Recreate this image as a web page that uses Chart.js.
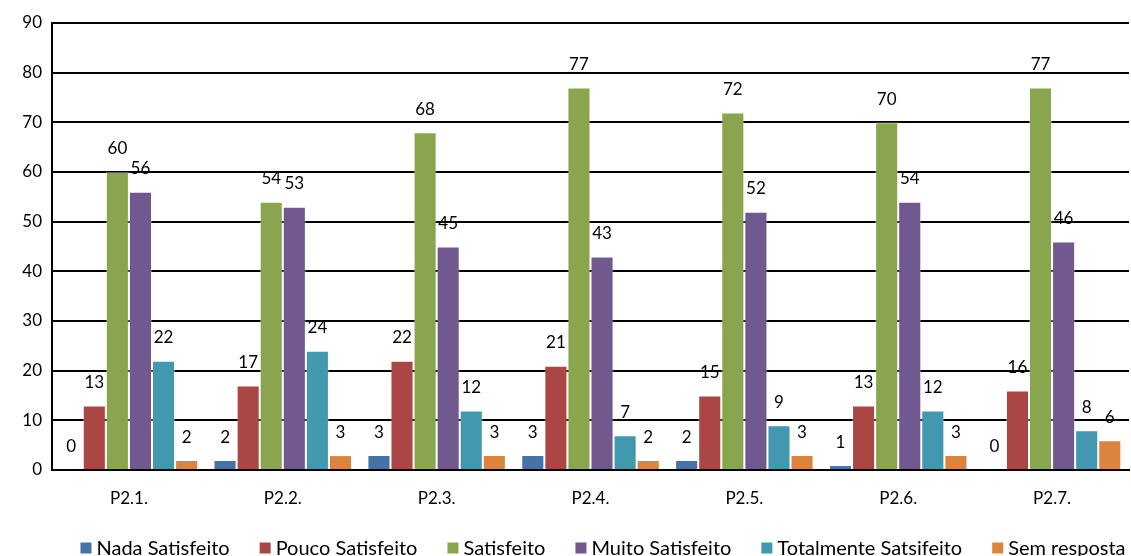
<!DOCTYPE html>
<html><head><meta charset="utf-8">
<script src="https://cdn.jsdelivr.net/npm/chart.js@4/dist/chart.umd.min.js"></script>
<style>html,body{margin:0;padding:0;background:#fff}#wrap{width:1131px;height:556px}</style>
</head><body><div id="wrap"><canvas id="c" width="1131" height="556"></canvas></div>
<script>
const categories = ["P2.1.","P2.2.","P2.3.","P2.4.","P2.5.","P2.6.","P2.7."];
const seriesNames = ["Nada Satisfeito","Pouco Satisfeito","Satisfeito","Muito Satisfeito","Totalmente Satsifeito","Sem resposta"];
const nada = [0,2,3,3,2,1,0];
const pouco = [13,17,22,21,15,13,16];
const satisfeito = [60,54,68,77,72,70,77];
const muito = [56,53,45,43,52,54,46];
const totalmente = [22,24,12,7,9,12,8];
const semResposta = [2,3,3,2,3,3,6];
const colors = ["#4572A7","#AA4643","#89A54E","#71588F","#4198AF","#DB843D"];
const values = [nada,pouco,satisfeito,muito,totalmente,semResposta];
const FONT = "Lato, 'Open Sans', sans-serif";

const labelPlugin = {
  id:'vals',
  afterDatasetsDraw(chart){
    const ctx = chart.ctx;
    ctx.save();
    ctx.font = "17px " + FONT;
    ctx.fillStyle = "#000";
    ctx.textAlign = "center";
    ctx.textBaseline = "middle";
    chart.data.datasets.forEach((ds,i)=>{
      const meta = chart.getDatasetMeta(i);
      meta.data.forEach((el,j)=>{
        ctx.fillText(String(ds.data[j]), el.x, el.y - 23);
      });
    });
    ctx.restore();
  }
};

const legendPlugin = {
  id:'customLegend',
  afterDraw(chart){
    const ctx = chart.ctx;
    ctx.save();
    ctx.font = "20px " + FONT;
    ctx.textBaseline = "middle";
    ctx.textAlign = "left";
    const box = 11, gapText = 5, gapItem = 30;
    const items = chart.data.datasets.map(ds=>({label:ds.label,color:ds.backgroundColor,w:box+gapText+ctx.measureText(ds.label).width}));
    const total = items.reduce((a,it)=>a+it.w,0) + gapItem*(items.length-1);
    let x = 603 - total/2;
    const y = 548;
    items.forEach(it=>{
      ctx.fillStyle = it.color;
      ctx.fillRect(x, y-box/2, box, box);
      ctx.fillStyle = "#000";
      ctx.fillText(it.label, x+box+gapText, y+1);
      x += it.w + gapItem;
    });
    ctx.restore();
  }
};

new Chart(document.getElementById('c'),{
  type:'bar',
  data:{
    labels:categories,
    datasets: values.map((v,i)=>({label:seriesNames[i],data:v,backgroundColor:colors[i],borderColor:'rgba(255,255,255,0.35)',borderWidth:{left:1,right:1,top:1,bottom:0},categoryPercentage:0.9,barPercentage:1.0}))
  },
  options:{
    responsive:false,animation:false,
    layout:{padding:{top:23,right:2,left:0,bottom:46}},
    plugins:{
      legend:{display:false},
      tooltip:{enabled:false}
    },
    scales:{
      x:{
        grid:{display:false},
        border:{display:true,color:'#000',width:2},
        ticks:{font:{family:FONT,size:17},color:'#000',padding:10},
        afterFit(s){s.height=40;}
      },
      y:{
        min:0,max:90,
        ticks:{stepSize:10,font:{family:FONT,size:17},color:'#000',padding:10},
        grid:{color:'#000',lineWidth:2,drawTicks:false},
        border:{display:true,color:'#000',width:2},
        afterFit(s){s.width=52;}
      }
    }
  },
  plugins:[labelPlugin, legendPlugin]
});
</script></body></html>
